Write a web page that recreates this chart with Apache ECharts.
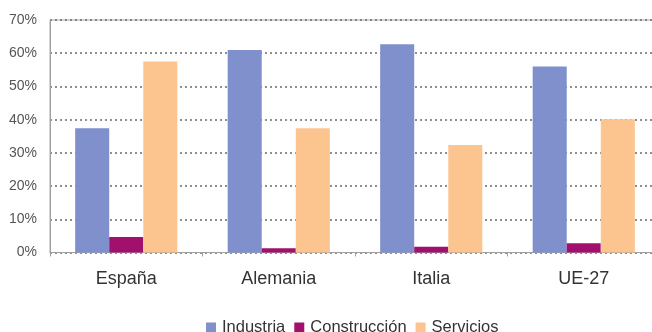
<!DOCTYPE html>
<html>
<head>
<meta charset="utf-8">
<script src="https://cdn.jsdelivr.net/npm/echarts@6/dist/echarts.min.js"></script>
<style>
  html, body { margin: 0; padding: 0; background: #ffffff; }
  #chart { width: 652px; height: 332px; }
</style>
</head>
<body>
<div id="chart"></div>
<script>
// Share of each sector by region (percent)
const categories = ['España', 'Alemania', 'Italia', 'UE-27'];
const industria = [37.4, 61.0, 62.7, 56.0];
const construccion = [4.7, 1.3, 1.7, 2.8];
const servicios = [57.5, 37.4, 32.4, 40.1];
const seriesNames = ['Industria', 'Construcción', 'Servicios'];
const yTicks = [0, 10, 20, 30, 40, 50, 60, 70];

const colors = ['#7f90cd', '#a0106c', '#fcc590'];
const font = '"Liberation Sans", Arial, sans-serif';

const chart = echarts.init(document.getElementById('chart'), null, { renderer: 'canvas' });

chart.setOption({
  animation: false,
  backgroundColor: '#ffffff',
  color: colors,
  grid: {
    left: 50,
    top: 20,
    width: 610,
    height: 232.5,
    outerBoundsMode: 'none',
    containLabel: false,
    show: true,
    borderColor: '#a8a8a8',
    borderWidth: 1,
    backgroundColor: 'transparent'
  },
  legend: {
    left: 201,
    top: 314,
    itemWidth: 10,
    itemHeight: 10,
    itemGap: 9,
    icon: 'rect',
    textStyle: { fontFamily: font, fontSize: 16.5, color: '#333333', padding: [0, 0, 0, 1] },
    data: seriesNames
  },
  xAxis: {
    type: 'category',
    data: categories,
    axisLine: { lineStyle: { color: '#a0a0a0', width: 1 } },
    axisTick: { show: true, length: 4, lineStyle: { color: '#a0a0a0' } },
    axisLabel: { fontFamily: font, fontSize: 18, color: '#333333', margin: 18 },
    splitLine: { show: false }
  },
  yAxis: {
    type: 'value',
    min: yTicks[0],
    max: yTicks[yTicks.length - 1],
    interval: 10,
    axisLine: { show: true, lineStyle: { color: '#a0a0a0', width: 1 } },
    axisTick: { show: false },
    axisLabel: {
      fontFamily: font, fontSize: 14, color: '#555555', margin: 13,
      formatter: v => v + '%'
    },
    splitLine: {
      show: true,
      lineStyle: { color: '#6a6a6a', width: 1.5, type: [2, 3] }
    }
  },
  series: [
    { name: seriesNames[0], type: 'bar', data: industria, barGap: 0, barCategoryGap: '33%' },
    { name: seriesNames[1], type: 'bar', data: construccion, barGap: 0, barCategoryGap: '33%' },
    { name: seriesNames[2], type: 'bar', data: servicios, barGap: 0, barCategoryGap: '33%' }
  ]
});
</script>
</body>
</html>
